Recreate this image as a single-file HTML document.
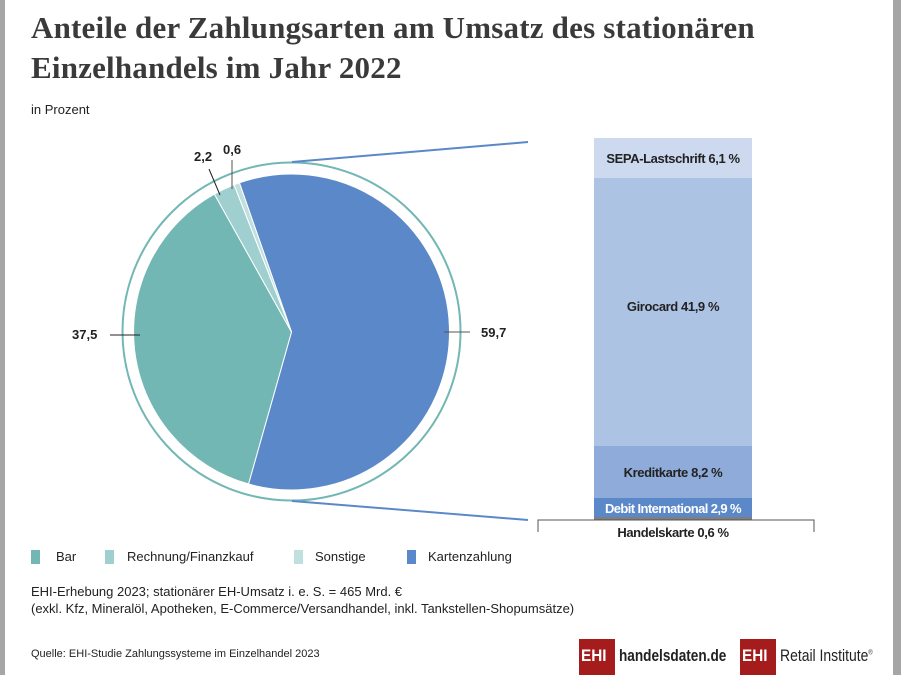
<!DOCTYPE html>
<html><head><meta charset="utf-8"><style>
body{margin:0;width:901px;height:675px;background:#fff;overflow:hidden;font-family:"Liberation Sans",sans-serif;color:#222;position:relative}
.fr{position:absolute;top:0;bottom:0;background:#a6a6a6}
h1{position:absolute;left:31px;top:8px;margin:0;font-family:"Liberation Serif",serif;font-weight:bold;font-size:31px;line-height:40px;color:#3a3a3a;letter-spacing:0.2px}
.t{position:absolute;white-space:nowrap}
.c{transform-origin:left top;transform:scaleX(0.9)}
</style></head><body>
<div class="fr" style="left:0;width:5px"></div>
<div class="fr" style="right:0;width:8px"></div>
<h1>Anteile der Zahlungsarten am Umsatz des stationären<br>Einzelhandels im Jahr 2022</h1>
<div class="t" style="left:31px;top:102px;font-size:13px">in Prozent</div>
<svg width="901" height="675" style="position:absolute;left:0;top:0">
<circle cx="291.5" cy="331.5" r="169" fill="none" stroke="#72b7b4" stroke-width="2"/>
<line x1="292" y1="162" x2="528" y2="142" stroke="#5b88c8" stroke-width="2"/>
<line x1="292" y1="501" x2="528" y2="520" stroke="#5b88c8" stroke-width="2"/>
<g transform="translate(291.5,332)" stroke="#fff" stroke-width="1">
<path d="M0 0 L-52.1 -149.2 A158 158 0 1 1 -43 152 Z" fill="#5b88c8"/>
<path d="M0 0 L-43 152 A158 158 0 0 1 -77.1 -137.9 Z" fill="#72b7b4"/>
<path d="M0 0 L-77.1 -137.9 A158 158 0 0 1 -57.4 -147.2 Z" fill="#9fcfcf"/>
<path d="M0 0 L-57.4 -147.2 A158 158 0 0 1 -52.1 -149.2 Z" fill="#bfe0df"/>
</g>
<line x1="209" y1="169" x2="220" y2="195" stroke="#222"/>
<line x1="232" y1="160" x2="232" y2="189" stroke="#555"/>
<line x1="110" y1="335" x2="140" y2="335" stroke="#222"/>
<line x1="444" y1="332" x2="470" y2="332" stroke="#555"/>
<rect x="594" y="138" width="158" height="40" fill="#ccd9ee"/>
<rect x="594" y="178" width="158" height="268" fill="#adc3e4"/>
<rect x="594" y="446" width="158" height="52" fill="#8eabd9"/>
<rect x="594" y="498" width="158" height="19" fill="#5b88c8"/>
<rect x="594" y="517" width="158" height="3" fill="#7f7f7f"/>
<path d="M538 532 V520 H814 V532" fill="none" stroke="#555"/>
<rect x="31" y="550" width="9" height="14" fill="#72b7b4"/>
<rect x="105" y="550" width="9" height="14" fill="#9fcfcf"/>
<rect x="294" y="550" width="9" height="14" fill="#bfe0df"/>
<rect x="407" y="550" width="9" height="14" fill="#5b88c8"/>
<rect x="579" y="639" width="36" height="36" fill="#a51c1c"/>
<rect x="740" y="639" width="36" height="36" fill="#a51c1c"/>
</svg>
<div class="t" style="left:194px;top:149px;font-size:13px;font-weight:bold">2,2</div>
<div class="t" style="left:223px;top:142px;font-size:13px;font-weight:bold">0,6</div>
<div class="t" style="left:72px;top:327px;font-size:13px;font-weight:bold">37,5</div>
<div class="t" style="left:481px;top:325px;font-size:13px;font-weight:bold">59,7</div>
<div class="t" style="left:594px;width:158px;text-align:center;top:151px;font-size:13px;font-weight:bold;letter-spacing:-0.4px">SEPA-Lastschrift 6,1 %</div>
<div class="t" style="left:594px;width:158px;text-align:center;top:299px;font-size:13px;font-weight:bold;letter-spacing:-0.4px">Girocard 41,9 %</div>
<div class="t" style="left:594px;width:158px;text-align:center;top:465px;font-size:13px;font-weight:bold;letter-spacing:-0.4px">Kreditkarte 8,2 %</div>
<div class="t" style="left:594px;width:158px;text-align:center;top:501px;font-size:13px;color:#fff;font-weight:bold;letter-spacing:-0.6px">Debit International 2,9 %</div>
<div class="t" style="left:594px;width:158px;text-align:center;top:525px;font-size:13px;font-weight:bold;letter-spacing:-0.4px">Handelskarte 0,6 %</div>
<div class="t" style="left:56px;top:549px;font-size:13px">Bar</div>
<div class="t" style="left:127px;top:549px;font-size:13px">Rechnung/Finanzkauf</div>
<div class="t" style="left:315px;top:549px;font-size:13px">Sonstige</div>
<div class="t" style="left:428px;top:549px;font-size:13px">Kartenzahlung</div>
<div class="t" style="left:31px;top:583px;font-size:13px;line-height:17px">EHI-Erhebung 2023; stationärer EH-Umsatz i. e. S. = 465 Mrd. €<br>(exkl. Kfz, Mineralöl, Apotheken, E-Commerce/Versandhandel, inkl. Tankstellen-Shopumsätze)</div>
<div class="t" style="left:31px;top:648px;font-size:11px">Quelle: EHI-Studie Zahlungssysteme im Einzelhandel 2023</div>
<div class="t c" style="left:581px;top:646px;font-size:17px;font-weight:bold;color:#fff">EHI</div>
<div class="t c" style="left:619px;top:646px;font-size:17px;font-weight:bold;color:#222;transform:scaleX(0.8)">handelsdaten.de</div>
<div class="t c" style="left:742px;top:646px;font-size:17px;font-weight:bold;color:#fff">EHI</div>
<div class="t c" style="left:780px;top:646px;font-size:17px;color:#222;transform:scaleX(0.82)">Retail Institute<sup style="font-size:7px">®</sup></div>
</body></html>
